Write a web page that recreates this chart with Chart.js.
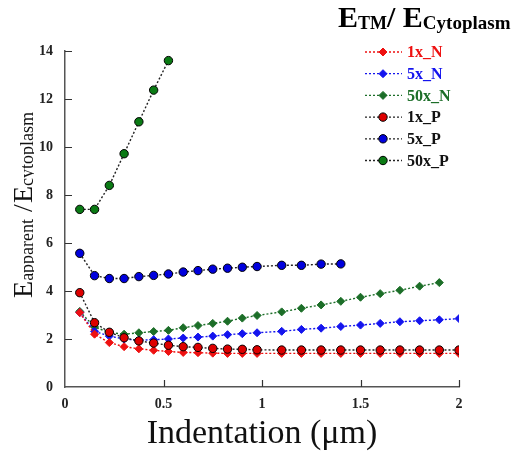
<!DOCTYPE html>
<html>
<head>
<meta charset="utf-8">
<script src="https://cdn.jsdelivr.net/npm/chart.js@4/dist/chart.umd.min.js"></script>
<style>
  html, body { margin: 0; padding: 0; background: #fff; }
  #wrap { width: 512px; height: 452px; }
</style>
</head>
<body>
<div id="wrap"><canvas id="myChart" width="512" height="452"></canvas></div>
<script>
// indentation depths (um) where the moduli were measured
var indent = [0.075, 0.15, 0.225, 0.3, 0.375, 0.45, 0.525, 0.6, 0.675, 0.75, 0.825, 0.9, 0.975,
              1.1, 1.2, 1.3, 1.4, 1.5, 1.6, 1.7, 1.8, 1.9, 2.0];

// E_apparent / E_cytoplasm
var n1  = [3.1, 2.2, 1.85, 1.68, 1.59, 1.53, 1.48, 1.44, 1.43, 1.41, 1.4, 1.4, 1.4,
           1.4, 1.4, 1.4, 1.4, 1.4, 1.4, 1.4, 1.4, 1.4, 1.4];
var n5  = [3.1, 2.32, 2.12, 2.0, 1.95, 1.97, 2.0, 2.04, 2.08, 2.12, 2.18, 2.22, 2.26,
           2.32, 2.4, 2.45, 2.52, 2.58, 2.65, 2.72, 2.76, 2.8, 2.85];
var n50 = [3.15, 2.5, 2.27, 2.2, 2.26, 2.31, 2.36, 2.47, 2.56, 2.65, 2.74, 2.87, 2.98,
           3.13, 3.28, 3.42, 3.57, 3.74, 3.89, 4.03, 4.2, 4.35];
var p1  = [3.93, 2.68, 2.28, 2.05, 1.92, 1.83, 1.74, 1.68, 1.65, 1.61, 1.58, 1.57, 1.55,
           1.54, 1.54, 1.54, 1.54, 1.54, 1.54, 1.54, 1.54, 1.54, 1.54];
var p5  = [5.57, 4.64, 4.52, 4.52, 4.6, 4.65, 4.71, 4.79, 4.85, 4.91, 4.95, 4.99, 5.02,
           5.07, 5.07, 5.12, 5.13];
var p50 = [7.4, 7.4, 8.4, 9.72, 11.05, 12.37, 13.6];

var seriesNames = ['1x_N', '5x_N', '50x_N', '1x_P', '5x_P', '50x_P'];
var xTicks = [0, 0.5, 1, 1.5, 2];
var yTicks = [0, 2, 4, 6, 8, 10, 12, 14];

var SERIF = '"Liberation Serif", "DejaVu Serif", serif';

// pair up x and y arrays
function pts(ys) {
    var out = [];
    for (var i = 0; i < ys.length; i++) {
        out.push({ x: indent[i], y: ys[i] });
    }
    return out;
}

function nSet(label, ys, col, ord) {
    return {
        label: label, data: pts(ys), order: ord,
        borderColor: col, borderWidth: 1.4, borderDash: [2, 2],
        pointStyle: 'rectRot', pointRadius: 4, pointBackgroundColor: col,
        pointBorderColor: col, pointBorderWidth: 1, textColor: col
    };
}
function pSet(label, ys, col, ord) {
    return {
        label: label, data: pts(ys), order: ord,
        borderColor: '#222', borderWidth: 1.4, borderDash: [2, 2],
        pointStyle: 'circle', pointRadius: 4.2, pointBackgroundColor: col,
        pointBorderColor: '#000', pointBorderWidth: 1, textColor: '#111'
    };
}

// draws text pieces one after another, with a vertical shift for subscripts
function drawParts(ctx, parts, x, y) {
    var cx = x;
    parts.forEach(function (p) {
        ctx.font = p.font;
        ctx.fillText(p.text, cx, y + (p.dy || 0));
        cx += ctx.measureText(p.text).width + (p.gap || 0);
    });
}
function partsWidth(ctx, parts) {
    var w = 0;
    parts.forEach(function (p) {
        ctx.font = p.font;
        w += ctx.measureText(p.text).width + (p.gap || 0);
    });
    return w;
}

// inward ticks, axis titles, heading and the legend
var decor = {
    id: 'decor',
    afterDraw: function (chart) {
        var ctx = chart.ctx;
        var xs = chart.scales.x, ys = chart.scales.y;
        var area = chart.chartArea;
        ctx.save();
        ctx.strokeStyle = '#333';
        ctx.lineWidth = 1.2;
        ctx.setLineDash([]);
        ctx.beginPath();
        xTicks.forEach(function (v) {
            if (v === 0) return;
            var px = Math.round(xs.getPixelForValue(v)) + 0.5;
            ctx.moveTo(px, area.bottom);
            ctx.lineTo(px, area.bottom - 7);
        });
        yTicks.forEach(function (v) {
            if (v === 0) return;
            var py = Math.round(ys.getPixelForValue(v)) + 0.5;
            ctx.moveTo(area.left, py);
            ctx.lineTo(area.left + 7, py);
        });
        ctx.stroke();

        // x title
        ctx.fillStyle = '#111';
        ctx.font = '34px ' + SERIF;
        ctx.textAlign = 'center';
        ctx.textBaseline = 'alphabetic';
        ctx.fillText('Indentation (\u03bcm)', 262, 443);

        // y title, rotated; descenders are cut off like in the original
        ctx.textAlign = 'left';
        var yParts = [
            { text: 'E', font: '28px ' + SERIF },
            { text: 'apparent', font: '18px ' + SERIF, dy: 1 },
            { text: ' /', font: '28px ' + SERIF, gap: 1 },
            { text: 'E', font: '28px ' + SERIF },
            { text: 'cytoplasm', font: '18px ' + SERIF, dy: 1 }
        ];
        ctx.save();
        ctx.beginPath();
        ctx.rect(0, 90, 34, 230);
        ctx.clip();
        ctx.translate(32, 205);
        ctx.rotate(-Math.PI / 2);
        drawParts(ctx, yParts, -partsWidth(ctx, yParts) / 2, 0);
        ctx.restore();

        // heading at top right
        ctx.fillStyle = '#000';
        var tParts = [
            { text: 'E', font: 'bold 30px ' + SERIF },
            { text: 'TM', font: 'bold 18px ' + SERIF, dy: 2 },
            { text: '/ ', font: 'bold 30px ' + SERIF },
            { text: 'E', font: 'bold 30px ' + SERIF },
            { text: 'Cytoplasm', font: 'bold 19px ' + SERIF, dy: 2 }
        ];
        drawParts(ctx, tParts, 338, 27);

        // legend
        chart.data.datasets.forEach(function (ds, i) {
            var ly = 52 + i * 21.7;
            ctx.strokeStyle = ds.borderColor;
            ctx.lineWidth = 1.3;
            ctx.setLineDash([2, 2]);
            ctx.beginPath();
            ctx.moveTo(365, ly);
            ctx.lineTo(402, ly);
            ctx.stroke();
            ctx.setLineDash([]);
            ctx.fillStyle = ds.pointBackgroundColor;
            ctx.strokeStyle = ds.pointBorderColor;
            ctx.lineWidth = 1;
            Chart.helpers.drawPoint(ctx, {
                pointStyle: ds.pointStyle, radius: ds.pointRadius,
                rotation: 0, borderWidth: 1
            }, 383, ly);
            ctx.fillStyle = ds.textColor;
            ctx.font = 'bold 16px ' + SERIF;
            ctx.textBaseline = 'middle';
            ctx.fillText(ds.label, 407, ly + 1);
            ctx.textBaseline = 'alphabetic';
        });
        ctx.restore();
    }
};

const data = {
    datasets: [
        pSet(seriesNames[3], p1, '#dd0000', 1),
        pSet(seriesNames[4], p5, '#0000dd', 2),
        pSet(seriesNames[5], p50, '#0a7a14', 3),
        nSet(seriesNames[0], n1, '#ee1111', 4),
        nSet(seriesNames[1], n5, '#1414ee', 5),
        nSet(seriesNames[2], n50, '#1c6e28', 6)
    ]
};
// legend order in the picture is N first, then P
data.datasets.sort(function (a, b) {
    return seriesNames.indexOf(a.label) - seriesNames.indexOf(b.label);
});

const config = {
    type: 'line',
    data: data,
    options: {
        responsive: false,
        animation: false,
        layout: { padding: { top: 51, right: 53, left: 0, bottom: 0 } },
        plugins: { legend: { display: false }, tooltip: { enabled: false } },
        scales: {
            x: {
                type: 'linear', min: 0, max: 2,
                afterFit: function (s) { s.height = 65; },
                afterBuildTicks: function (s) { s.ticks = xTicks.map(function (v) { return { value: v }; }); },
                grid: { display: false },
                border: { display: true, color: '#555', width: 1.5 },
                ticks: {
                    color: '#222', padding: 1,
                    font: { family: SERIF, size: 14, weight: 'bold' },
                    callback: function (v) { return String(v); }
                }
            },
            y: {
                min: 0, max: 14,
                afterFit: function (s) { s.width = 65; },
                afterBuildTicks: function (s) { s.ticks = yTicks.map(function (v) { return { value: v }; }); },
                grid: { display: false },
                border: { display: true, color: '#555', width: 1.5 },
                ticks: { color: '#222', padding: 4, font: { family: SERIF, size: 14, weight: 'bold' } }
            }
        }
    },
    plugins: [decor]
};

var myChart = new Chart(document.getElementById('myChart'), config);
</script>
</body>
</html>
